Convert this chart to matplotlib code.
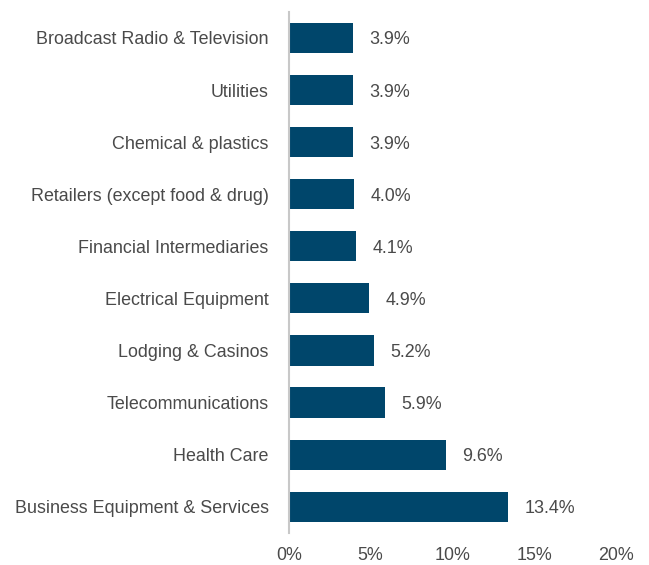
import matplotlib
matplotlib.use("Agg")
import matplotlib.pyplot as plt

categories = [
    "Broadcast Radio & Television",
    "Utilities",
    "Chemical & plastics",
    "Retailers (except food & drug)",
    "Financial Intermediaries",
    "Electrical Equipment",
    "Lodging & Casinos",
    "Telecommunications",
    "Health Care",
    "Business Equipment & Services",
]
values = [3.9, 3.9, 3.9, 4.0, 4.1, 4.9, 5.2, 5.9, 9.6, 13.4]
value_labels = ["3.9%", "3.9%", "3.9%", "4.0%", "4.1%", "4.9%", "5.2%", "5.9%", "9.6%", "13.4%"]
xticks = [0, 5, 10, 15, 20]
xtick_labels = ["0%", "5%", "10%", "15%", "20%"]

plt.rcParams["font.family"] = ["Liberation Sans", "DejaVu Sans"]
text_color = "#4a4a4a"
bar_color = "#00466b"
fs = 12.9

fig = plt.figure(figsize=(6.49, 5.65), dpi=100)
ax = fig.add_axes([0.445, 0.057, 0.504, 0.922])

ypos = list(range(len(categories)))
ax.barh(ypos, values, height=0.58, color=bar_color)
for y, v, lab in zip(ypos, values, value_labels):
    ax.text(v + 1.0, y + 0.04, lab, va="center", ha="left", fontsize=fs, color=text_color)

ax.set_yticks(ypos)
ax.set_yticklabels(categories, fontsize=fs, color=text_color)
ax.set_ylim(len(categories) - 0.5, -0.5)
ax.set_xlim(0, 20)
ax.set_xticks(xticks)
ax.set_xticklabels(xtick_labels, fontsize=fs, color=text_color)
ax.tick_params(axis="both", length=0)
ax.tick_params(axis="y", pad=14.5)
ax.tick_params(axis="x", pad=10)
for s in ["top", "right", "bottom"]:
    ax.spines[s].set_visible(False)
ax.spines["left"].set_color("#c8c8c8")
ax.spines["left"].set_linewidth(1.5)

fig.savefig("out.png", dpi=100)
